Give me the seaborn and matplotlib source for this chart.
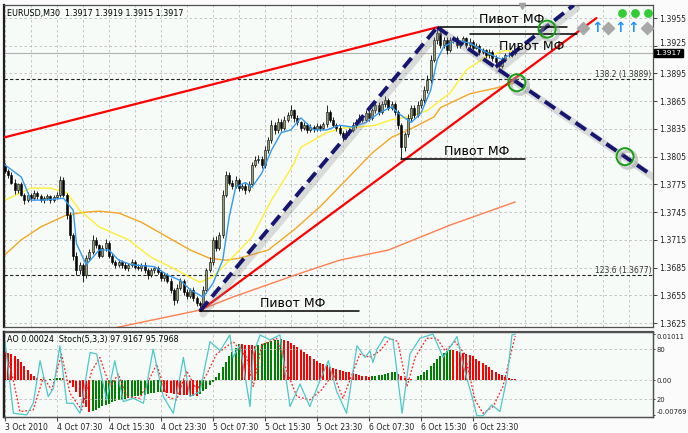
import numpy as np
import matplotlib
matplotlib.use("Agg")
import matplotlib.pyplot as plt
import matplotlib.transforms as mtransforms
import seaborn as sns

# --- EURUSD M30 candles, bar 0 = 3 Oct 23:30 ---
first_open = 1.3795
closes = [
    1.3790, 1.3785, 1.3777, 1.3769, 1.3775, 1.3764, 1.3758, 1.3764, 1.3760, 1.3766,
    1.3762, 1.3758, 1.3760, 1.3762, 1.3758, 1.3761, 1.3764, 1.3780, 1.3764, 1.3742,
    1.3720, 1.3698, 1.3682, 1.3688, 1.3677, 1.3695, 1.3702, 1.3715, 1.3709, 1.3698,
    1.3706, 1.3712, 1.3698, 1.3691, 1.3688, 1.3691, 1.3688, 1.3684, 1.3688, 1.3691,
    1.3686, 1.3684, 1.3688, 1.3682, 1.3677, 1.3682, 1.3684, 1.3680, 1.3674, 1.3677,
    1.3671, 1.3661, 1.3650, 1.3663, 1.3671, 1.3659, 1.3654, 1.3661, 1.3652, 1.3647,
    1.3644, 1.3661, 1.3682, 1.3691, 1.3715, 1.3706, 1.3720, 1.3764, 1.3785, 1.3777,
    1.3773, 1.3780, 1.3771, 1.3773, 1.3769, 1.3775, 1.3796, 1.3801, 1.3803, 1.3796,
    1.3812, 1.3823, 1.3839, 1.3834, 1.3843, 1.3836, 1.3845, 1.3850, 1.3855, 1.3847,
    1.3842, 1.3836, 1.3839, 1.3834, 1.3837, 1.3835, 1.3838, 1.3836, 1.3840, 1.3853,
    1.3845, 1.3839, 1.3836, 1.3831, 1.3826, 1.3831, 1.3834, 1.3839, 1.3843, 1.3847,
    1.3845, 1.3852, 1.3847, 1.3855, 1.3861, 1.3853, 1.3862, 1.3866, 1.3858, 1.3862,
    1.3853, 1.3839, 1.3815, 1.3829, 1.3847, 1.3858, 1.3850, 1.3861, 1.3866, 1.3877,
    1.3888, 1.3910, 1.3931, 1.3939, 1.3926, 1.3931, 1.3920, 1.3931, 1.3933, 1.3926,
    1.3929, 1.3933, 1.3926, 1.3929, 1.3923, 1.3925, 1.3918, 1.3920, 1.3915, 1.3918,
    1.3912, 1.3907, 1.3903, 1.3910, 1.3915, 1.3915, 1.3918, 1.3917]
# wicks in pips above / below the body
wick_up = [3, 2, 3, 4, 2, 3, 2, 3, 2, 3, 2, 3, 2, 3, 2, 2, 3, 4, 3, 2,
           3, 2, 4, 3, 2, 4, 3, 5, 3, 2, 3, 4, 2, 3, 2, 3, 2, 3, 2, 3,
           2, 3, 2, 3, 2, 3, 2, 3, 2, 3, 2, 3, 2, 4, 3, 2, 3, 2, 3, 2,
           2, 4, 3, 5, 3, 4, 3, 5, 4, 3, 3, 4, 2, 3, 3, 4, 3, 5, 4, 3,
           4, 3, 6, 3, 4, 3, 4, 3, 6, 2, 3, 2, 3, 2, 3, 2, 3, 2, 3, 8,
           2, 3, 2, 3, 2, 3, 2, 3, 3, 4, 2, 4, 3, 3, 4, 3, 3, 5, 2, 3,
           2, 3, 2, 3, 4, 3, 3, 4, 3, 4, 5, 5, 4, 5, 4, 3, 3, 4, 3, 3,
           2, 3, 2, 4, 2, 3, 2, 3, 2, 3, 2, 3, 2, 3, 2, 3, 2, 2]
wick_dn = [3, 3, 2, 4, 3, 2, 4, 2, 3, 2, 3, 2, 3, 2, 3, 2, 2, 3, 3, 4,
           4, 5, 5, 4, 8, 3, 3, 2, 3, 3, 2, 3, 3, 2, 3, 2, 3, 2, 3, 2,
           3, 2, 3, 3, 4, 2, 3, 2, 4, 3, 3, 4, 6, 3, 2, 4, 3, 2, 3, 4,
           6, 3, 3, 2, 3, 3, 2, 3, 3, 3, 3, 2, 3, 2, 4, 2, 3, 2, 3, 3,
           3, 3, 3, 4, 3, 3, 2, 3, 3, 4, 3, 3, 2, 3, 2, 3, 2, 3, 2, 3,
           3, 2, 3, 3, 4, 2, 3, 2, 3, 2, 3, 2, 3, 2, 3, 3, 2, 3, 3, 2,
           3, 4, 12, 4, 3, 3, 3, 2, 3, 3, 3, 3, 3, 4, 3, 3, 4, 2, 3, 3,
           3, 2, 3, 3, 3, 2, 3, 2, 3, 3, 3, 3, 4, 2, 3, 2, 2, 2]

# --- moving averages (bar, price vertices) ---
ma_fast_bar = [0, 5, 8, 12, 18, 21, 22, 25, 29, 32, 35, 39, 46, 50, 54, 57, 61, 64, 67, 69,
               71, 74, 76, 79, 82, 85, 88, 91, 95, 99, 103, 107, 111, 115, 119, 121, 125, 128,
               131, 133, 135, 139, 143, 147, 151, 153, 156, 157]
ma_fast_val = [1.3796, 1.3783, 1.3758, 1.3758, 1.3760, 1.3747, 1.3711, 1.3688, 1.3704, 1.3704,
               1.3693, 1.3688, 1.3686, 1.3677, 1.3671, 1.3661, 1.3653, 1.3668, 1.3693, 1.3740,
               1.3772, 1.3777, 1.3772, 1.3787, 1.3812, 1.3831, 1.3834, 1.3847, 1.3834, 1.3834,
               1.3839, 1.3837, 1.3842, 1.3852, 1.3859, 1.3852, 1.3842, 1.3852, 1.3877, 1.3910,
               1.3924, 1.3931, 1.3928, 1.3920, 1.3913, 1.3910, 1.3917, 1.3918]
ma_mid_bar = [0, 8, 14, 19, 23, 29, 38, 45, 53, 60, 64, 70, 76, 82, 89, 91, 95, 99, 104, 109,
              114, 119, 124, 130, 134, 137, 142, 148, 154, 157]
ma_mid_val = [1.3758, 1.3771, 1.3771, 1.3766, 1.3747, 1.3729, 1.3715, 1.3696, 1.3682, 1.3669,
              1.3675, 1.3696, 1.3718, 1.3758, 1.3798, 1.3815, 1.3823, 1.3831, 1.3836, 1.3837,
              1.3839, 1.3845, 1.3848, 1.3855, 1.3866, 1.3874, 1.3899, 1.3913, 1.3920, 1.3918]
ma_slow_bar = [0, 5, 11, 19, 25, 29, 35, 42, 50, 57, 63, 68, 72, 81, 89, 97, 105, 113, 119,
               126, 132, 134, 143, 152, 157]
ma_slow_val = [1.3699, 1.3715, 1.3729, 1.3742, 1.3745, 1.3746, 1.3744, 1.3734, 1.3718, 1.3704,
               1.3695, 1.3693, 1.3695, 1.3704, 1.3726, 1.3751, 1.3780, 1.3809, 1.3826, 1.3837,
               1.3848, 1.3858, 1.3873, 1.3880, 1.3885]
ma_long_bar = [30, 45, 60, 70, 91, 103, 118, 137, 157]
ma_long_val = [1.3617, 1.3628, 1.3639, 1.3653, 1.3679, 1.3693, 1.3704, 1.3731, 1.3756]

# --- hand-drawn objects: trend lines (bar, price) pairs ---
red_lines = [([0, 133], [1.3826, 1.3945]), ([60, 182], [1.3638, 1.3955])]
navy_lines = [([60, 133], [1.3638, 1.3945]), ([133, 199], [1.3945, 1.3785]),
              ([151, 175], [1.3902, 1.3969])]
circle_bar = [166.8, 157.5, 190.8]
circle_val = [1.3943, 1.3885, 1.3805]
pivot_val = [1.3638, 1.3803, 1.3945, 1.3938]
pivot_start = [60, 122, 134, 143]
pivot_end = [109, 160, 173, 176]
pivot_label_bar = [88.6, 145, 156, 162]
pivot_label_val = [1.3642, 1.3807, 1.3950, 1.3920]
fibo_val = [1.3889, 1.3677]
fibo_text = ["138.2 (1.3889)", "123.6 (1.3677)"]
last_price = 1.3917

# signal icons, top right
diamond_bar = [177.8, 185.5, 197.5]
arrow_bar = [182.2, 189.2, 193.2]
icon_val = 1.3944
dot_bar = [189.8, 193.8, 197.8]
dot_val = 1.3960

price_ticks = [1.3625, 1.3655, 1.3685, 1.3715, 1.3745, 1.3775, 1.3805, 1.3835,
               1.3865, 1.3895, 1.3925, 1.3955]
date_ticks = [0, 16, 32, 48, 64, 80, 96, 112, 128, 144]
date_labels = ["3 Oct 2010", "4 Oct 07:30", "4 Oct 15:30", "4 Oct 23:30", "5 Oct 07:30",
               "5 Oct 15:30", "5 Oct 23:30", "6 Oct 07:30", "6 Oct 15:30", "6 Oct 23:30"]

# --- Awesome Oscillator, one value per bar ---
ao = [0.0062, 0.0060, 0.0057, 0.0052, 0.0046, 0.0039, 0.0031, 0.0022, 0.0013, 0.0008,
      0.0005, 0.0003, 0.0002, 0.0001, 0.0002, 0.0003, 0.0004, 0.0005, 0.0004, 0.0001,
      -0.0006, -0.0016, -0.0027, -0.0038, -0.0050, -0.0060, -0.0070, -0.0068, -0.0065, -0.0062,
      -0.0058, -0.0055, -0.0052, -0.0049, -0.0047, -0.0045, -0.0043, -0.0041, -0.0040, -0.0038,
      -0.0036, -0.0035, -0.0033, -0.0032, -0.0030, -0.0029, -0.0028, -0.0027, -0.0026, -0.0027,
      -0.0028, -0.0029, -0.0030, -0.0031, -0.0032, -0.0033, -0.0034, -0.0035, -0.0035, -0.0036,
      -0.0030, -0.0025, -0.0019, -0.0012, -0.0005, 0.0006, 0.0016, 0.0028, 0.0040, 0.0052,
      0.0062, 0.0071, 0.0080, 0.0079, 0.0078, 0.0077, 0.0076, 0.0075, 0.0077, 0.0079,
      0.0081, 0.0083, 0.0085, 0.0087, 0.0089, 0.0091, 0.0089, 0.0086, 0.0082, 0.0078,
      0.0073, 0.0068, 0.0062, 0.0057, 0.0052, 0.0047, 0.0042, 0.0038, 0.0035, 0.0032,
      0.0029, 0.0026, 0.0024, 0.0022, 0.0020, 0.0018, 0.0017, 0.0015, 0.0013, 0.0011,
      0.0009, 0.0008, 0.0007, 0.0008, 0.0009, 0.0010, 0.0012, 0.0013, 0.0015, 0.0017,
      0.0018, 0.0014, 0.0009, 0.0005, 0.0003, 0.0002, 0.0001, 0.0008, 0.0012, 0.0017,
      0.0023, 0.0030, 0.0038, 0.0046, 0.0053, 0.0059, 0.0063, 0.0066, 0.0065, 0.0063,
      0.0061, 0.0059, 0.0057, 0.0055, 0.0052, 0.0047, 0.0042, 0.0037, 0.0032, 0.0028,
      0.0023, 0.0018, 0.0014, 0.0010, 0.0007, 0.0005, 0.0003, 0.0002]

# --- Stochastic(5,3,3): main and signal vertices ---
stoch_bar = [0, 2.6, 6.7, 8.7, 10.8, 13.3, 14.9, 16.9, 19.0, 21.0, 23.1, 26.2, 28.2, 31.3,
             33.8, 36.4, 39.5, 42.6, 45.6, 48.7, 51.8, 54.9, 56.9, 60.0, 63.1, 66.2, 69.2,
             70.2, 72.3, 75.4, 76.4, 78.5, 81.5, 84.6, 87.7, 90.8, 93.8, 96.9, 99.5, 102,
             105.1, 108.3, 110.8, 112.3, 113.2, 114.5, 116.9, 119.4, 122.2, 124.6, 127.7,
             131.7, 134.8, 136.9, 139.1, 140.9, 144.0, 145.2, 147.1, 149.8, 152.3, 154.5,
             156.0, 157]
stoch_main = [89, 3, 1, 15, 66, 23, 33, 84, 15, 15, 3, 76, 74, 19, 66, 17, 21, 15, 80, 23,
              3, 70, 23, 29, 89, 78, 97, 70, 85, 11, 74, 97, 91, 97, 11, 38, 11, 42, 66, 30,
              3, 84, 70, 78, 64, 80, 95, 91, 3, 74, 93, 98, 70, 82, 95, 62, 19, 0, 0, 13, 5,
              46, 97, 97.9]
signal_bar = [0, 2.6, 4.6, 8.7, 11.8, 14.4, 17.4, 20, 23.6, 26.7, 29.2, 32.3, 34.9, 37.4,
              41.5, 46.7, 49.8, 52.8, 55.9, 59, 62.1, 65.1, 70.2, 74.4, 76.4, 79, 83.6, 86.7,
              89.8, 93.8, 97.4, 101, 104, 109.2, 112.3, 115.4, 118.5, 120.9, 123.7, 126.2,
              129.8, 132.9, 135.4, 138.5, 141.5, 144.6, 147.1, 150.2, 153.2, 155.4, 157]
stoch_signal = [82, 42, 5, 7, 46, 31, 74, 27, 7, 54, 70, 35, 50, 23, 21, 62, 23, 19, 54, 31,
                50, 74, 89, 70, 35, 85, 93, 54, 23, 19, 31, 50, 21, 74, 70, 78, 93, 89, 35,
                70, 93, 93, 78, 89, 74, 19, 3, 11, 35, 70, 95.8]

# ------------------------------------------------------------------
sns.set_theme(style="white")
plt.rcParams['font.family'] = ['DejaVu Sans']

bg = '#f7fbf8'
fig = plt.figure(figsize=(6.88, 4.33), dpi=100, facecolor='#fbfbfb')
ax = fig.add_axes([4 / 688, 1 - 327 / 433, 649 / 688, 322 / 433], facecolor=bg)
ax2 = fig.add_axes([4 / 688, 1 - 417 / 433, 649 / 688, 85 / 433], facecolor=bg)
ax3 = ax2.twinx()

x_lim = (-0.3, 199.4)
grid_kw = dict(color='#bdbdbd', lw=0.6, ls=(0, (3, 3)))
tick_kw = dict(length=3, width=0.6, pad=1.5, colors='#222222')
small_tick_kw = dict(length=1.5, width=0.6, pad=0.8, colors='#222222')

# ---- main chart ----
bars = np.arange(len(closes))
opens = [first_open] + closes[:-1]
highs = [max(o, c) + u * 0.0001 for o, c, u in zip(opens, closes, wick_up)]
lows = [min(o, c) - d * 0.0001 for o, c, d in zip(opens, closes, wick_dn)]

ax.axhline(last_price, color='#b0b0b0', lw=0.8, zorder=1)
for val in fibo_val:
    ax.axhline(val, color='#222222', lw=0.8, ls=(0, (3, 2)), zorder=1)

ax.vlines(bars, lows, highs, color='black', lw=0.6, zorder=3)
body_low = [min(o, c) for o, c in zip(opens, closes)]
body_h = [max(abs(c - o), 0.00004) for o, c in zip(opens, closes)]
body_col = ['#93a078' if c >= o else 'black' for o, c in zip(opens, closes)]
ax.bar(bars, body_h, bottom=body_low, width=0.62, color=body_col, edgecolor='black',
       linewidth=0.4, zorder=4)

sns.lineplot(x=ma_long_bar, y=ma_long_val, ax=ax, color='#ff7f50', lw=1.0, estimator=None, zorder=2)
sns.lineplot(x=ma_slow_bar, y=ma_slow_val, ax=ax, color='#f5a623', lw=1.0, estimator=None, zorder=2)
sns.lineplot(x=ma_mid_bar, y=ma_mid_val, ax=ax, color='#ffee33', lw=1.0, estimator=None, zorder=2)
sns.lineplot(x=ma_fast_bar, y=ma_fast_val, ax=ax, color='#3399ee', lw=1.0, estimator=None, zorder=5)

for lx, ly in red_lines:
    ax.plot(lx, ly, color='#ff0000', lw=1.6, zorder=6)

shadow = mtransforms.offset_copy(ax.transData, fig=fig, x=3, y=-3, units='dots')
for lx, ly in navy_lines:
    ax.plot(lx, ly, color='#888888', lw=5, alpha=0.28, transform=shadow, zorder=6,
            solid_capstyle='round')
    ax.plot(lx, ly, color='#161670', lw=2.8, ls=(0, (3.2, 1.6)), zorder=7)

for val, x0, x1 in zip(pivot_val, pivot_start, pivot_end):
    ax.plot([x0, x1], [val, val], color='black', lw=1.1, zorder=7)
for bx, by in zip(pivot_label_bar, pivot_label_val):
    ax.text(bx, by, "Пивот МФ", fontsize=9, ha='center', va='baseline', color='black', zorder=8)

ax.scatter(circle_bar, circle_val, s=150, facecolors='none', edgecolors='#999999',
           linewidths=2.5, alpha=0.45, transform=shadow, zorder=8)
ax.scatter(circle_bar, circle_val, s=150, facecolors='none', edgecolors='#14a014',
           linewidths=1.4, zorder=9)

for val, txt in zip(fibo_val, fibo_text):
    ax.text(199, val + 0.00005, txt, fontsize=5.5, ha='right', va='bottom', color='#333333')

ax.scatter(diamond_bar, [icon_val] * len(diamond_bar), marker='D', s=38, color='#a8a8a8', zorder=9)
for bx in arrow_bar:
    ax.text(bx, icon_val, "↑", fontsize=10, fontweight='bold', color='#1e90ff',
            ha='center', va='center', zorder=9)
ax.scatter(dot_bar, [dot_val] * len(dot_bar), s=28, color='#33cc33', zorder=9)
ax.plot([159], [1.39685], marker='v', ms=5, color='#a0a0a0', clip_on=False, zorder=9)

ax.text(0.004, 0.988, "EURUSD,M30  1.3917 1.3919 1.3915 1.3917", transform=ax.transAxes,
        fontsize=5.8, ha='left', va='top', color='black')

ax.set_xlim(*x_lim)
ax.set_ylim(1.36207, 1.39691)
ax.set_xticks(range(0, 200, 8))
ax.set_yticks(price_ticks)
ax.set_yticklabels([f"{p:.4f}" for p in price_ticks])
ax.yaxis.tick_right()
ax.tick_params(axis='y', labelsize=5.6, right=True, **tick_kw)
ax.tick_params(axis='x', length=0, labelbottom=False)
ax.grid(True, **grid_kw)
ax.set_xlabel("")
ax.set_ylabel("")
# the 1.3925 label sits just above the price box, as in the terminal
for lbl in ax.get_yticklabels():
    if lbl.get_text() == "1.3925":
        lbl.set_transform(lbl.get_transform() + mtransforms.ScaledTranslation(0, 2 / 72, fig.dpi_scale_trans))

ax.text(1.004, last_price, f"{last_price:.4f}", transform=ax.get_yaxis_transform(),
        fontsize=5.4, color='white', ha='left', va='center', clip_on=False,
        bbox=dict(boxstyle='square,pad=0.15', fc='black', ec='black'), zorder=10)

# ---- indicator panel: AO histogram + stochastic ----
ao_col = ['#008000' if i > 0 and ao[i] > ao[i - 1] else '#ff0000' for i in range(len(ao))]
ax2.bar(bars, ao, width=0.62, color=ao_col, linewidth=0, zorder=2)
ax2.axhline(0, **grid_kw)
ax2.set_xlim(*x_lim)
ax2.set_ylim(-0.00813, 0.01055)
ax2.set_yticks([0.01011, 0.0, -0.00769])
ax2.set_yticklabels(["0.01011", "0.00", "-0.00769"])
ax2.yaxis.tick_right()
ax2.tick_params(axis='y', labelsize=4.9, right=True, **small_tick_kw)
for lbl, dy in zip(ax2.get_yticklabels(), [-1.5, 0, 2.5]):
    lbl.set_transform(lbl.get_transform() + mtransforms.ScaledTranslation(0, dy / 72, fig.dpi_scale_trans))
ax2.set_xticks(date_ticks)
ax2.set_xticklabels(date_labels)
for lbl in ax2.get_xticklabels():
    lbl.set_horizontalalignment('left')
ax2.tick_params(axis='x', labelsize=5.6, bottom=True, **tick_kw)
ax2.grid(True, axis='x', **grid_kw)

sns.lineplot(x=signal_bar, y=stoch_signal, ax=ax3, color='#ff2020', lw=0.9, ls=(0, (1.5, 1.5)),
             estimator=None)
sns.lineplot(x=stoch_bar, y=stoch_main, ax=ax3, color='#4cc8c8', lw=0.9, estimator=None)
ax3.set_ylim(-1.5, 100.5)
ax3.set_yticks([80, 20])
ax3.set_yticklabels(["80", "20"])
ax3.tick_params(axis='y', labelsize=4.9, right=True, **small_tick_kw)
ax3.grid(True, axis='y', **grid_kw)
ax3.set_xlim(*x_lim)
ax3.set_ylabel("")
ax3.text(0.004, 0.96, "AO 0.00024  Stoch(5,3,3) 97.9167 95.7968", transform=ax3.transAxes,
         fontsize=5.8, ha='left', va='top', color='black')

for a in (ax, ax2, ax3):
    for side, sp in a.spines.items():
        sp.set_color('#505050')
        sp.set_linewidth(0.9)
    a.spines['left'].set_linewidth(1.6)
    a.spines['left'].set_color('#202020')
ax2.spines['top'].set_linewidth(1.6)

fig.savefig("out.png", dpi=100, facecolor=fig.get_facecolor())
